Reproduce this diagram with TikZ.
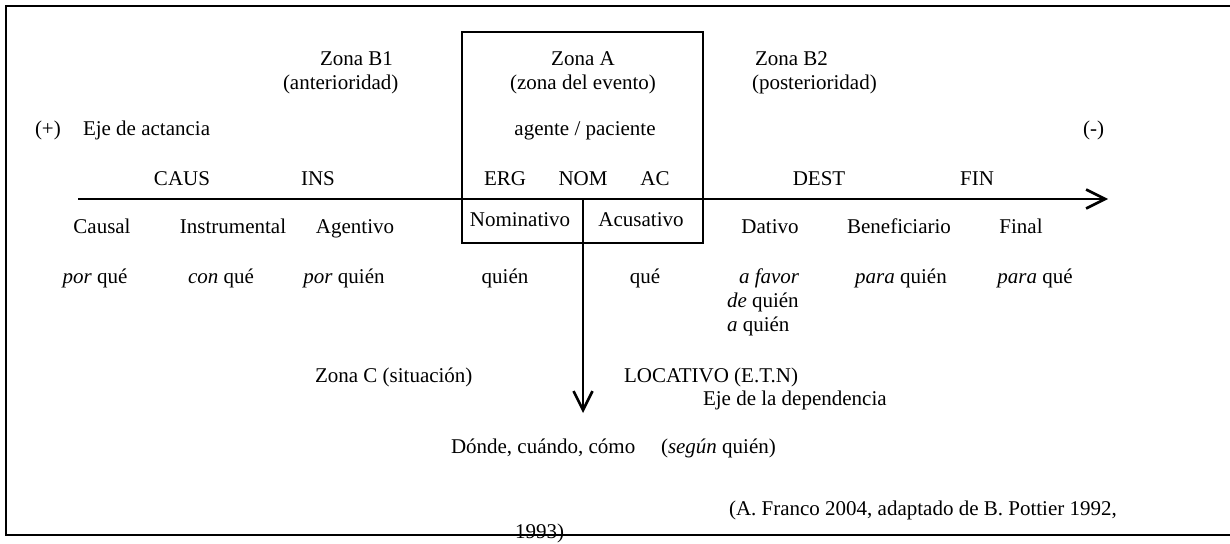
\documentclass[tikz,border=0pt]{standalone}
\usepackage{fontspec}
\setmainfont{Liberation Serif}
\usetikzlibrary{arrows.meta}
\tikzset{
  lbl/.style={inner sep=0pt, outer sep=0pt, text height=14pt, text depth=4pt, font=\fontsize{21}{24}\selectfont},
  lblw/.style={lbl, anchor=west},
  axisline/.style={line width=2.6pt, -{Straight Barb[length=19pt,width=19pt,line width=2.6pt]}},
  boxline/.style={line width=1.6pt},
  frameline/.style={line width=1.8pt}
}
\begin{document}
\begin{tikzpicture}[x=1pt,y=-1pt]
\useasboundingbox (0,0) rectangle (1230,543);
% frame
\coordinate (fTR) at (1230,6);
\coordinate (fTL) at (6,6);
\coordinate (fBL) at (6,535);
\coordinate (fBR) at (1230,535);
\draw[frameline] (fTR) -- (fTL) -- (fBL) -- (fBR);
% Zona A box
\node[draw, boxline, minimum width=241pt, minimum height=211pt, inner sep=0pt] (zonaA) at (582.5,137.5) {};
% top labels
\node[lblw] (zb1a) at (320,60) {Zona B1};
\node[lblw] (zb1b) at (283,84) {(anterioridad)};
\node[lbl] (zaa) at (583,60) {Zona A};
\node[lbl] (zab) at (583,84) {(zona del evento)};
\node[lblw] (zb2a) at (755,60) {Zona B2};
\node[lblw] (zb2b) at (752,84) {(posterioridad)};
\node[lblw] (plus) at (35,130) {(+)};
\node[lblw] (eje) at (83,130) {Eje de actancia};
\node[lbl] (agente) at (585,130) {agente / paciente};
\node[lblw] (minus) at (1083,130) {(-)};
% above axis
\node[lbl] (caus) at (182,180) {CAUS};
\node[lbl] (ins) at (318,180) {INS};
\node[lbl] (erg) at (505,180) {ERG};
\node[lbl] (nom) at (583,180) {NOM};
\node[lbl] (ac) at (655,180) {AC};
\node[lbl] (dest) at (819,180) {DEST};
\node[lbl] (fin) at (977,180) {FIN};
% axis
\coordinate (axL) at (78,199);
\coordinate (axR) at (1108,199);
\draw[axisline] (axL) -- (axR);
% below axis
\node[lbl] (causal) at (102,228) {Causal};
\node[lbl] (instr) at (233,228) {Instrumental};
\node[lbl] (agentivo) at (355,228) {Agentivo};
\node[lbl] (nominativo) at (520,221) {Nominativo};
\node[lbl] (acusativo) at (641,221) {Acusativo};
\node[lbl] (dativo) at (770,228) {Dativo};
\node[lbl] (benef) at (899,228) {Beneficiario};
\node[lbl] (final) at (1021,228) {Final};
% questions
\node[lbl] (q1) at (95,278) {\textit{por} qué};
\node[lbl] (q2) at (221,278) {\textit{con} qué};
\node[lbl] (q3) at (344,278) {\textit{por} quién};
\node[lbl] (q4) at (505,278) {quién};
\node[lbl] (q5) at (645,278) {qué};
\node[lblw] (q6) at (739,278) {\textit{a favor}};
\node[lblw] (q6b) at (727,302) {\textit{de} quién};
\node[lblw] (q6c) at (727,326) {\textit{a} quién};
\node[lbl] (q7) at (901,278) {\textit{para} quién};
\node[lbl] (q8) at (1035,278) {\textit{para} qué};
% vertical axis
\coordinate (vTop) at (583,199);
\coordinate (vBot) at (583,413);
\draw[axisline] (vTop) -- (vBot);
% zone C
\node[lblw] (zonaC) at (315,377) {Zona C (situación)};
\node[lblw] (loc) at (624,377) {LOCATIVO (E.T.N)};
\node[lblw] (ejedep) at (703,400) {Eje de la dependencia};
\node[lblw] (donde) at (451,448) {Dónde, cuándo, cómo};
\node[lblw] (segun) at (661,448) {(\textit{según} quién)};
% source
\node[lblw] (src) at (729,510) {(A.\ Franco 2004, adaptado de B.\ Pottier 1992,};
\node[lblw] (src2) at (515,533) {1993)};
\end{tikzpicture}
\end{document}
